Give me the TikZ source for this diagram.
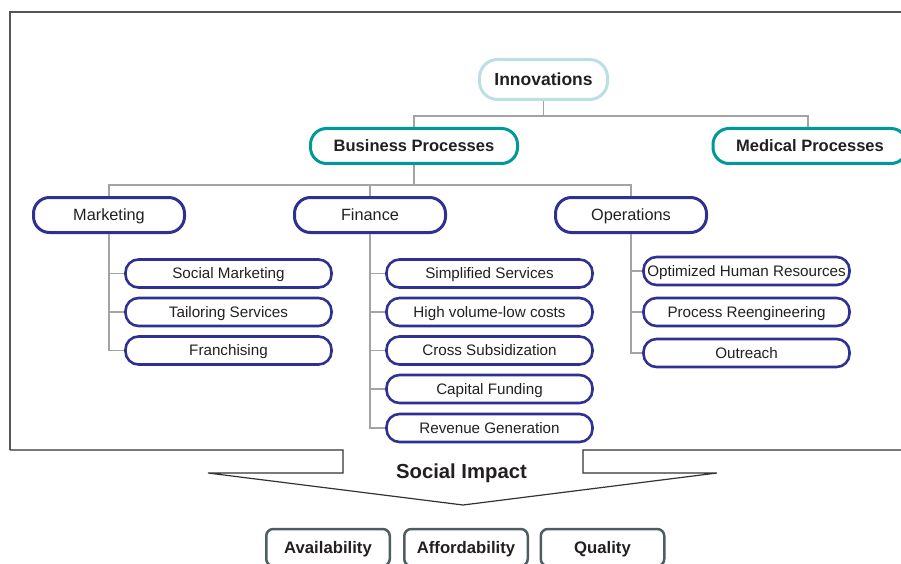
\documentclass[tikz,border=0pt]{standalone}
\usepackage{fontspec}
\setmainfont{Liberation Sans}
\definecolor{navy}{HTML}{2E3192}
\definecolor{tealc}{HTML}{00999A}
\definecolor{lblue}{HTML}{BCDFE3}
\definecolor{connc}{HTML}{A3A3A3}
\definecolor{framec}{HTML}{555555}
\definecolor{slate}{HTML}{4F5D60}
\definecolor{txt}{HTML}{231F20}
\begin{document}
\begin{tikzpicture}[x=1pt,y=-1pt,
  every node/.style={text=txt, inner sep=0pt, text depth=0pt},
  topbox/.style={draw=lblue, line width=3pt, rounded corners=18pt, minimum width=128pt, minimum height=40pt, font=\bfseries\fontsize{17.5}{20}\selectfont, text height=12.5pt},
  procbox/.style={draw=tealc, line width=3pt, rounded corners=16pt, minimum width=207pt, minimum height=35pt, font=\bfseries\fontsize{16.5}{20}\selectfont, text height=11.8pt},
  lvlbox/.style={draw=navy, line width=3pt, rounded corners=16pt, minimum width=151pt, minimum height=35pt, font=\fontsize{16.3}{20}\selectfont, text height=11.7pt},
  leafbox/.style={draw=navy, line width=2.6pt, rounded corners=13pt, minimum width=206pt, minimum height=28pt, font=\fontsize{15.2}{18}\selectfont, text height=10.9pt},
  impbox/.style={draw=slate, line width=2.5pt, rounded corners=7pt, minimum width=123.5pt, minimum height=37pt, font=\bfseries\fontsize{16.7}{20}\selectfont, text height=12pt},
  connector/.style={draw=connc, line width=1.5pt},
  titletext/.style={font=\bfseries\fontsize{20.3}{24}\selectfont, text height=14.5pt}
]
\clip (0,0) rectangle (901,564);
\useasboundingbox (0,0) rectangle (901,564);

% frame and arrow
\draw[framec, line width=1.4pt] (10,450) -- (10,12) -- (920,12);
\draw[black!80, line width=1.2pt] (10,450) -- (343,450) -- (343,473) -- (208,473) -- (463,505) -- (717,473) -- (583,473) -- (583,450) -- (920,450);

\coordinate (y1) at (0,116);
\coordinate (y2) at (0,185);

% nodes
\node[topbox] (inn) at (543.5,79.5) {Innovations};
\node[procbox] (bp) at (414,146) {Business Processes};
\node[procbox, minimum width=194pt] (mp) at (810,146) {Medical Processes};
\coordinate (mpin) at (808,127);

\node[lvlbox] (mkt) at (109,215) {Marketing};
\node[lvlbox] (fin) at (370,215) {Finance};
\node[lvlbox] (ops) at (631,215) {Operations};

\node[leafbox] (sm) at (228.5,273.5) {Social Marketing};
\node[leafbox] (ts) at (228.5,312) {Tailoring Services};
\node[leafbox] (fr) at (228.5,350.5) {Franchising};

\node[leafbox] (ss) at (489.5,273.5) {Simplified Services};
\node[leafbox] (hv) at (489.5,312) {High volume-low costs};
\node[leafbox] (cs) at (489.5,350.5) {Cross Subsidization};
\node[leafbox] (cf) at (489.5,389) {Capital Funding};
\node[leafbox] (rg) at (489.5,428) {Revenue Generation};

\node[leafbox] (ohr) at (746.5,271) {Optimized Human Resources};
\node[leafbox] (pr) at (746.5,312) {Process Reengineering};
\node[leafbox] (out) at (746.5,353) {Outreach};

\node[titletext] (si) at (461.5,471.5) {Social Impact};

\node[impbox] (av) at (328,547.5) {Availability};
\node[impbox] (af) at (466,547.5) {Affordability};
\node[impbox] (qu) at (602.5,547.5) {Quality};

% connectors
\draw[connector] (inn.south) -- (inn.south |- y1) -| (bp.north);
\draw[connector] (inn.south |- y1) -| (mpin);
\draw[connector] (bp.south) -- (bp.south |- y2) -| (mkt.north);
\draw[connector] (bp.south |- y2) -| (fin.north);
\draw[connector] (bp.south |- y2) -| (ops.north);

\draw[connector] (mkt.south) |- (sm.west);
\draw[connector] (mkt.south) |- (ts.west);
\draw[connector] (mkt.south) |- (fr.west);

\draw[connector] (fin.south) |- (ss.west);
\draw[connector] (fin.south) |- (hv.west);
\draw[connector] (fin.south) |- (cs.west);
\draw[connector] (fin.south) |- (cf.west);
\draw[connector] (fin.south) |- (rg.west);

\draw[connector] (ops.south) |- (ohr.west);
\draw[connector] (ops.south) |- (pr.west);
\draw[connector] (ops.south) |- (out.west);
\end{tikzpicture}
\end{document}
